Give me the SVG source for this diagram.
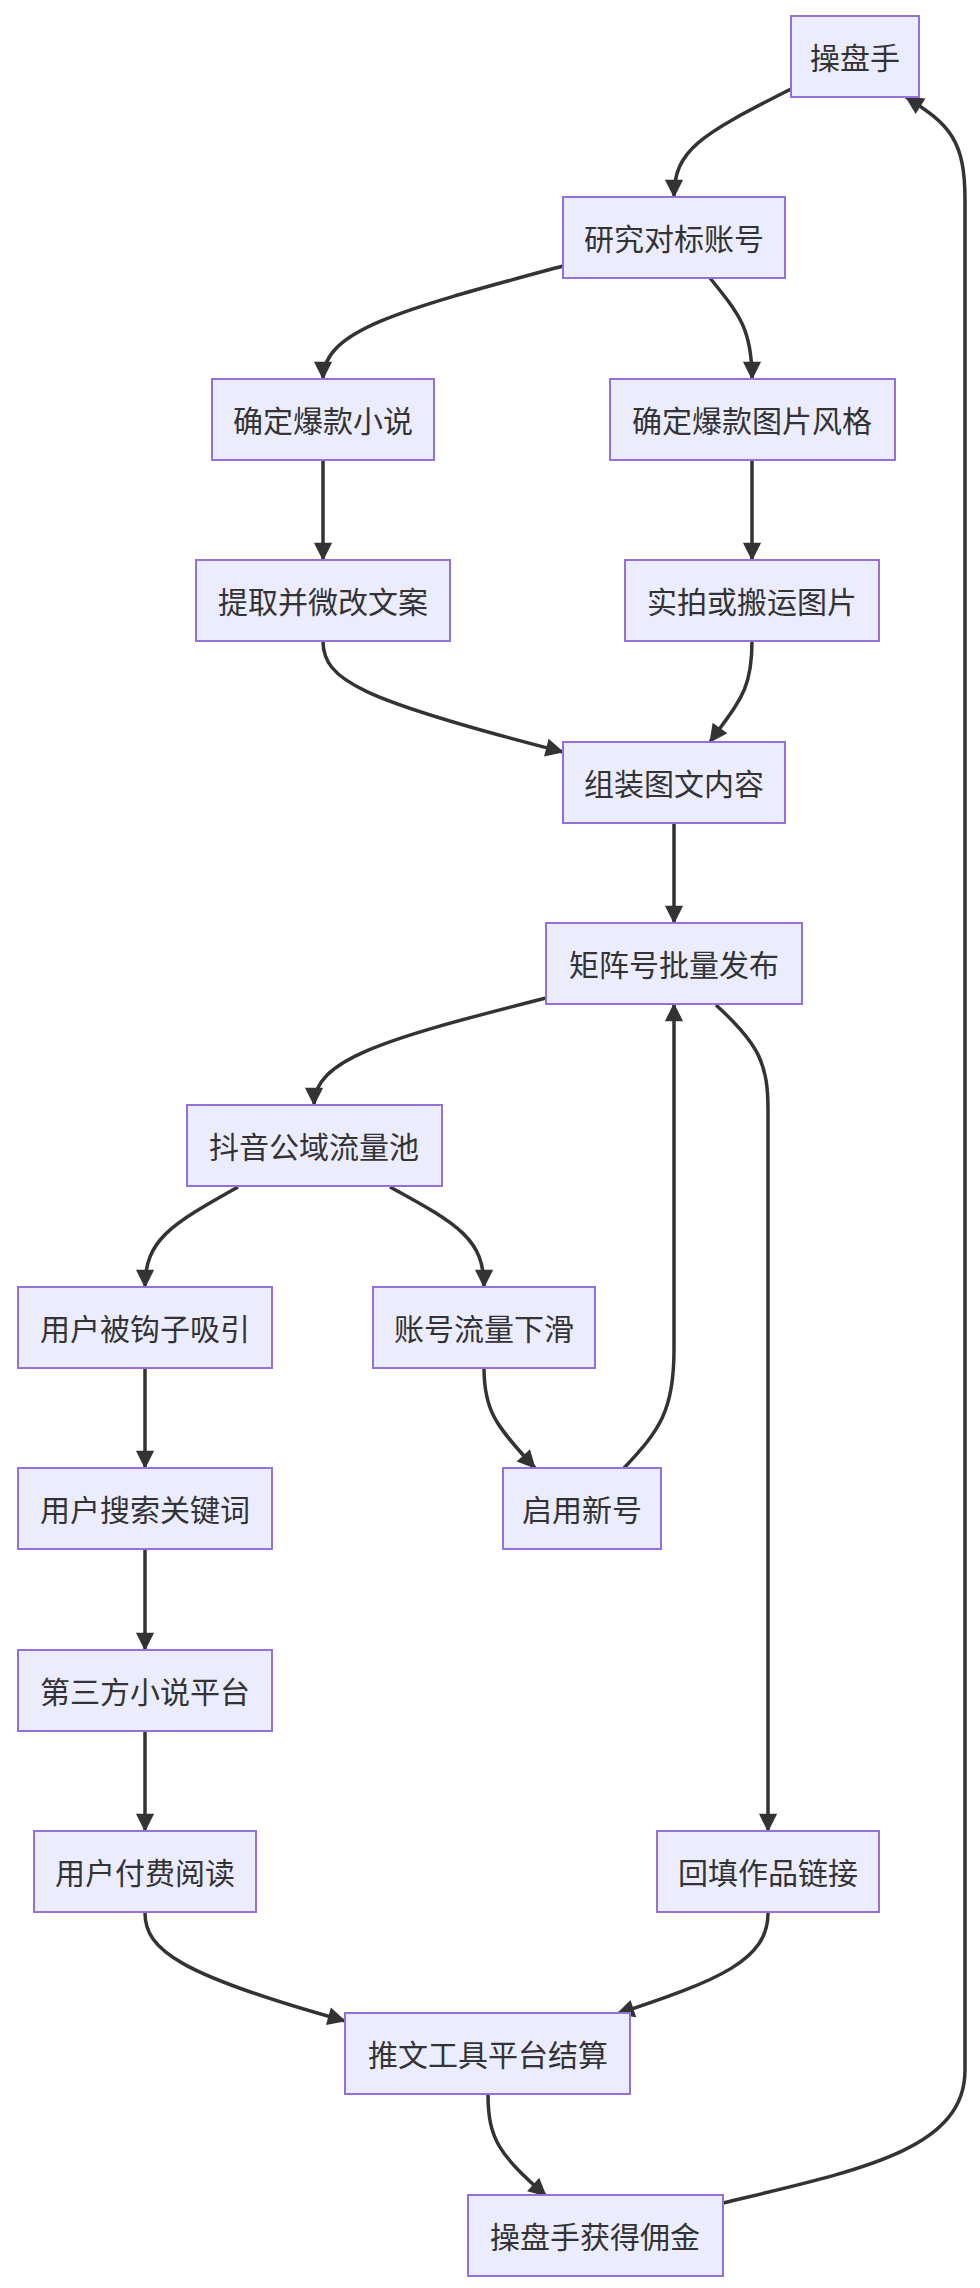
<svg xmlns="http://www.w3.org/2000/svg" width="980" height="2288" viewBox="0 0 980 2288">
<style>
.n rect{fill:#ECECFF;stroke:#9370DB;stroke-width:2}
.n text{font-family:"Noto Sans CJK SC","Liberation Sans",sans-serif;font-size:30px;fill:#333;text-anchor:middle;dominant-baseline:central}
.e path{fill:none;stroke:#333;stroke-width:3.5}
</style>
<defs><marker id="a" viewBox="0 0 10 10" refX="9" refY="5" markerWidth="7" markerHeight="7" markerUnits="userSpaceOnUse" orient="auto" style="overflow:visible"><path d="M0,0L10,5L0,10z" fill="#333" transform="scale(2.6) translate(-6,-3.1)"/></marker></defs>
<rect width="980" height="2288" fill="#fff"/>
<g class="e" marker-end="url(#a)">
<path d="M791,89 C700,135 674,150 674,197"/>
<path d="M563,266 C400,310 323,330 323,379"/>
<path d="M710,278 C740,315 752,330 752,379"/>
<path d="M323,460 L323,560"/>
<path d="M752,460 L752,560"/>
<path d="M323,641 C323,680 360,700 563,752"/>
<path d="M752,641 C752,690 740,700 710,742"/>
<path d="M674,823 L674,923"/>
<path d="M546,998 C380,1040 314,1060 314,1105"/>
<path d="M716,1005 C760,1045 768,1065 768,1110 L768,1831"/>
<path d="M238,1187 C170,1225 145,1240 145,1287"/>
<path d="M390,1187 C460,1225 484,1240 484,1287"/>
<path d="M145,1368 L145,1468"/>
<path d="M145,1549 L145,1650"/>
<path d="M145,1731 L145,1831"/>
<path d="M484,1368 C484,1410 495,1425 535,1468"/>
<path d="M624,1468 C660,1430 674,1410 674,1350 L674,1004"/>
<path d="M145,1913 C145,1950 180,1975 345,2021"/>
<path d="M768,1913 C768,1960 720,1980 617,2014"/>
<path d="M488,2094 C488,2140 500,2155 546,2196"/>
<path d="M723,2203 C860,2170 965,2150 965,2070 L965,200 C965,140 950,125 906,97"/>
</g>
<g class="n" id="n1"><rect x="791" y="16" width="128" height="81"/><text x="855" y="56">操盘手</text></g>
<g class="n" id="n2"><rect x="563" y="197" width="222" height="81"/><text x="674" y="237">研究对标账号</text></g>
<g class="n" id="n3"><rect x="212" y="379" width="222" height="81"/><text x="323" y="419">确定爆款小说</text></g>
<g class="n" id="n4"><rect x="610" y="379" width="285" height="81"/><text x="752" y="419">确定爆款图片风格</text></g>
<g class="n" id="n5"><rect x="196" y="560" width="254" height="81"/><text x="323" y="600">提取并微改文案</text></g>
<g class="n" id="n6"><rect x="625" y="560" width="254" height="81"/><text x="752" y="600">实拍或搬运图片</text></g>
<g class="n" id="n7"><rect x="563" y="742" width="222" height="81"/><text x="674" y="782">组装图文内容</text></g>
<g class="n" id="n8"><rect x="546" y="923" width="256" height="81"/><text x="674" y="963">矩阵号批量发布</text></g>
<g class="n" id="n9"><rect x="187" y="1105" width="255" height="81"/><text x="314" y="1145">抖音公域流量池</text></g>
<g class="n" id="n10"><rect x="18" y="1287" width="254" height="81"/><text x="145" y="1327">用户被钩子吸引</text></g>
<g class="n" id="n11"><rect x="373" y="1287" width="222" height="81"/><text x="484" y="1327">账号流量下滑</text></g>
<g class="n" id="n12"><rect x="18" y="1468" width="254" height="81"/><text x="145" y="1508">用户搜索关键词</text></g>
<g class="n" id="n13"><rect x="503" y="1468" width="158" height="81"/><text x="582" y="1508">启用新号</text></g>
<g class="n" id="n14"><rect x="18" y="1650" width="254" height="81"/><text x="145" y="1690">第三方小说平台</text></g>
<g class="n" id="n15"><rect x="34" y="1831" width="222" height="81"/><text x="145" y="1871">用户付费阅读</text></g>
<g class="n" id="n16"><rect x="657" y="1831" width="222" height="81"/><text x="768" y="1871">回填作品链接</text></g>
<g class="n" id="n17"><rect x="345" y="2013" width="285" height="81"/><text x="488" y="2053">推文工具平台结算</text></g>
<g class="n" id="n18"><rect x="468" y="2195" width="255" height="81"/><text x="595" y="2235">操盘手获得佣金</text></g>
</svg>
